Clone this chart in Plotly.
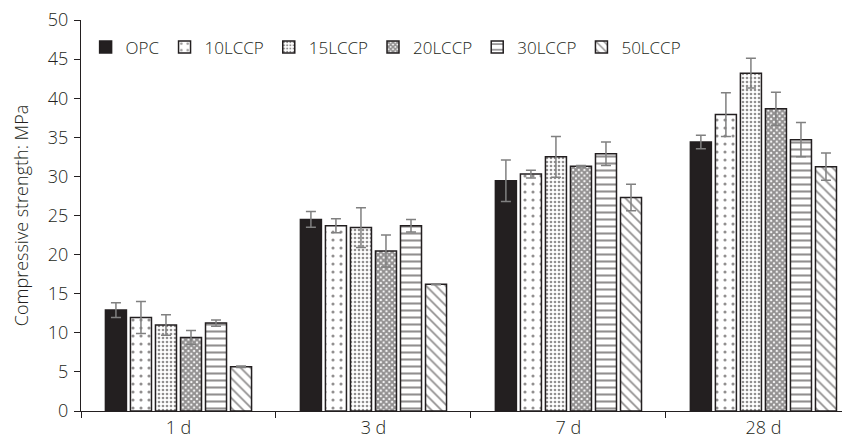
import plotly.graph_objects as go

categories = ["1 d", "3 d", "7 d", "28 d"]
series_names = ["OPC", "10LCCP", "15LCCP", "20LCCP", "30LCCP", "50LCCP"]

opc = [12.9, 24.5, 29.45, 34.4]
lccp10 = [11.95, 23.7, 30.3, 37.9]
lccp15 = [11.0, 23.45, 32.5, 43.2]
lccp20 = [9.4, 20.45, 31.3, 38.65]
lccp30 = [11.25, 23.7, 32.9, 34.7]
lccp50 = [5.65, 16.2, 27.3, 31.25]

opc_err = [0.95, 1.0, 2.65, 0.85]
lccp10_err = [2.05, 0.9, 0.5, 2.8]
lccp15_err = [1.3, 2.55, 2.6, 1.9]
lccp20_err = [0.9, 2.05, 0.1, 2.1]
lccp30_err = [0.4, 0.8, 1.5, 2.2]
lccp50_err = [0.1, 0.05, 1.7, 1.75]

values = [opc, lccp10, lccp15, lccp20, lccp30, lccp50]
errors = [opc_err, lccp10_err, lccp15_err, lccp20_err, lccp30_err, lccp50_err]

dark = "#231f20"
patterns = [
    dict(shape=""),
    dict(shape=".", size=8, solidity=0.12, fgcolor=dark, bgcolor="white", fillmode="overlay"),
    dict(shape=".", size=4, solidity=0.35, fgcolor=dark, bgcolor="white", fillmode="overlay"),
    dict(shape="x", size=4, solidity=0.75, fgcolor=dark, bgcolor="white", fillmode="overlay"),
    dict(shape="-", size=7, solidity=0.3, fgcolor=dark, bgcolor="white", fillmode="overlay"),
    dict(shape="\\", size=7, solidity=0.25, fgcolor=dark, bgcolor="white", fillmode="overlay"),
]
fills = [dark, "white", "white", "white", "white", "white"]

fig = go.Figure()
for name, v, e, p, c in zip(series_names, values, errors, patterns, fills):
    fig.add_trace(go.Bar(
        x=categories, y=v, name=name,
        marker=dict(color=c, pattern=p, line=dict(color=dark, width=1.5)),
        error_y=dict(type="data", array=e, visible=True, color="#808080", thickness=1.5, width=5),
    ))

fig.update_layout(
    width=842, height=436,
    margin=dict(l=73, r=0, t=12, b=33),
    plot_bgcolor="white", paper_bgcolor="white",
    barmode="group", bargap=0.23, bargroupgap=0.16,
    font=dict(family="Open Sans", size=18, color=dark, weight=300),
    showlegend=True,
    legend=dict(orientation="h", x=0.006, y=0.93, xanchor="left", yanchor="middle",
                font=dict(size=17, weight=300), itemwidth=30, bgcolor="rgba(0,0,0,0)",
                traceorder="normal"),
    xaxis=dict(range=[-0.5, 3.444], showline=True, linecolor=dark, linewidth=1,
               ticks="outside", tickson="boundaries", ticklen=6, tickcolor=dark,
               tickfont=dict(size=18, weight=300), showgrid=False),
    yaxis=dict(range=[0, 50], dtick=5, showline=True, linecolor=dark, linewidth=1,
               ticks="outside", ticklen=6, tickcolor=dark, tickfont=dict(size=18, weight=300),
               ticklabelstandoff=2, ticklabeloverflow="allow",
               showgrid=False, zeroline=False,
               title=dict(text="Compressive strength: MPa", font=dict(size=18, weight=300),
                          standoff=14)),
)

fig.write_html("out.html")
